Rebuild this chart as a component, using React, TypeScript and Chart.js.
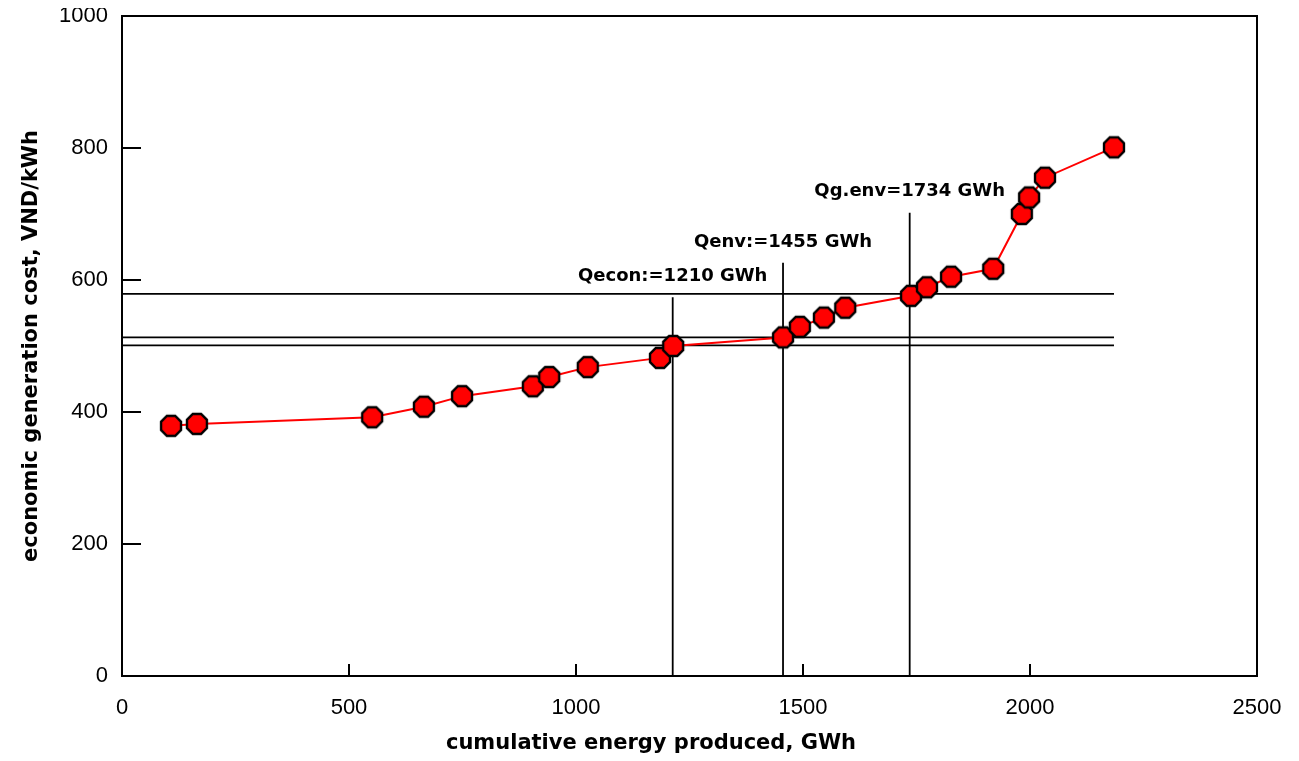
import React, { useEffect, useRef } from "react";
import { Chart, registerables } from "chart.js";

Chart.register(...registerables);

// cumulative energy produced, GWh
const energyGWh = [108, 165, 551, 665, 749, 905, 941, 1026, 1185, 1214, 1456, 1493, 1546, 1593, 1738, 1773, 1826, 1919, 1982, 1998, 2033, 2185];
// economic generation cost, VND/kWh
const costVND = [379, 382, 392, 408, 424, 439, 453, 468, 482, 500, 513, 529, 543, 558, 576, 589, 605, 617, 700, 725, 755, 801];

// horizontal reference levels (VND/kWh) and their right end (GWh)
const hLevels = [579, 513, 501];
const hLineEnd = 2185;

// vertical reference lines
const vLineX = [1213, 1456, 1735];
const vLineTop = [574, 626, 702];
const vLabels = ["Qecon:=1210 GWh", "Qenv:=1455 GWh", "Qg.env=1734 GWh"];

const xTicks = [0, 500, 1000, 1500, 2000, 2500];
const yTicks = [0, 200, 400, 600, 800, 1000];

const xTitle = "cumulative energy produced, GWh";
const yTitle = "economic generation cost, VND/kWh";

function makeOctagon(): HTMLCanvasElement {
  const size = 26;
  const c = document.createElement("canvas");
  c.width = size;
  c.height = size;
  const g = c.getContext("2d")!;
  const r = 10.8;
  const cx = size / 2;
  const cy = size / 2;
  g.beginPath();
  for (let k = 0; k < 8; k++) {
    const a = Math.PI / 8 + (k * Math.PI) / 4;
    const px = cx + r * Math.cos(a);
    const py = cy + r * Math.sin(a);
    if (k === 0) g.moveTo(px, py);
    else g.lineTo(px, py);
  }
  g.closePath();
  g.fillStyle = "#ff0000";
  g.fill();
  g.lineWidth = 2.4;
  g.strokeStyle = "#000000";
  g.stroke();
  return c;
}

const framePlugin = {
  id: "framePlugin",
  beforeDatasetsDraw(chart: any) {
    const { ctx, chartArea, scales } = chart;
    const xs = scales.x;
    const ys = scales.y;
    ctx.save();
    ctx.strokeStyle = "#000";
    ctx.lineWidth = 1.8;
    hLevels.forEach((v) => {
      const py = ys.getPixelForValue(v);
      ctx.beginPath();
      ctx.moveTo(chartArea.left, py);
      ctx.lineTo(xs.getPixelForValue(hLineEnd), py);
      ctx.stroke();
    });
    ctx.font = "bold 18px 'DejaVu Sans'";
    ctx.fillStyle = "#000";
    ctx.textAlign = "center";
    ctx.textBaseline = "middle";
    vLineX.forEach((v, i) => {
      const px = xs.getPixelForValue(v);
      const top = ys.getPixelForValue(vLineTop[i]);
      ctx.beginPath();
      ctx.moveTo(px, chartArea.bottom);
      ctx.lineTo(px, top);
      ctx.stroke();
      ctx.fillText(vLabels[i], px, top - 21);
    });
    ctx.restore();
  },
  afterDraw(chart: any) {
    const { ctx, chartArea, scales } = chart;
    const xs = scales.x;
    const ys = scales.y;
    ctx.save();
    ctx.strokeStyle = "#000";
    ctx.lineWidth = 2;
    ctx.strokeRect(chartArea.left, chartArea.top, chartArea.right - chartArea.left, chartArea.bottom - chartArea.top);
    xTicks.forEach((v) => {
      const px = xs.getPixelForValue(v);
      ctx.beginPath();
      ctx.moveTo(px, chartArea.bottom);
      ctx.lineTo(px, chartArea.bottom - 12);
      ctx.stroke();
    });
    yTicks.forEach((v) => {
      const py = ys.getPixelForValue(v);
      ctx.beginPath();
      ctx.moveTo(chartArea.left, py);
      ctx.lineTo(chartArea.left + 19, py);
      ctx.stroke();
    });
    ctx.fillStyle = "#000";
    ctx.font = "bold 21px 'DejaVu Sans'";
    ctx.textAlign = "center";
    ctx.textBaseline = "middle";
    ctx.fillText(xTitle, 643, 736);
    ctx.translate(24, 338);
    ctx.rotate(-Math.PI / 2);
    ctx.fillText(yTitle, 0, 0);
    ctx.restore();
  },
};

const zeroPad = (s: any) => {
  s.paddingTop = 0;
  s.paddingBottom = 0;
  s.paddingLeft = 0;
  s.paddingRight = 0;
};

export default function App() {
  const ref = useRef<HTMLCanvasElement | null>(null);
  useEffect(() => {
    if (!ref.current) return;
    const marker = makeOctagon();
    const chart = new Chart(ref.current, {
      type: "scatter",
      data: {
        datasets: [
          {
            data: energyGWh.map((x, i) => ({ x, y: costVND[i] })),
            showLine: true,
            borderColor: "#ff0000",
            borderWidth: 2,
            pointStyle: marker as any,
            pointRadius: 10,
            pointHoverRadius: 10,
            backgroundColor: "#ff0000",
            clip: false as any,
          },
        ],
      },
      options: {
        animation: false,
        responsive: false,
        maintainAspectRatio: false,
        layout: { autoPadding: false, padding: { top: 8, right: 34, left: 0, bottom: 0 } },
        plugins: { legend: { display: false }, tooltip: { enabled: false }, title: { display: false } },
        scales: {
          x: {
            type: "linear",
            min: 0,
            max: 2500,
            grid: { display: false, drawTicks: false },
            border: { display: false },
            afterBuildTicks: (s: any) => {
              s.ticks = xTicks.map((v) => ({ value: v }));
            },
            afterFit: (s: any) => {
              s.height = 77;
              zeroPad(s);
            },
            ticks: {
              padding: 19,
              color: "#000",
              font: { family: "'Liberation Sans'", size: 22 },
              maxRotation: 0,
              callback: (v: any) => String(v),
            },
          },
          y: {
            type: "linear",
            min: 0,
            max: 1000,
            grid: { display: false, drawTicks: false },
            border: { display: false },
            afterBuildTicks: (s: any) => {
              s.ticks = yTicks.map((v) => ({ value: v }));
            },
            afterFit: (s: any) => {
              s.width = 114;
              zeroPad(s);
            },
            ticks: {
              padding: 14,
              color: "#000",
              font: { family: "'Liberation Sans'", size: 22 },
              callback: (v: any) => String(v),
            },
          },
        },
      },
      plugins: [framePlugin],
    });
    return () => chart.destroy();
  }, []);
  return (
    <div style={{ width: 1283, height: 745, position: "relative" }}>
      <canvas ref={ref} width={1283} height={745} style={{ display: "block", width: 1283, height: 745 }} />
    </div>
  );
}
